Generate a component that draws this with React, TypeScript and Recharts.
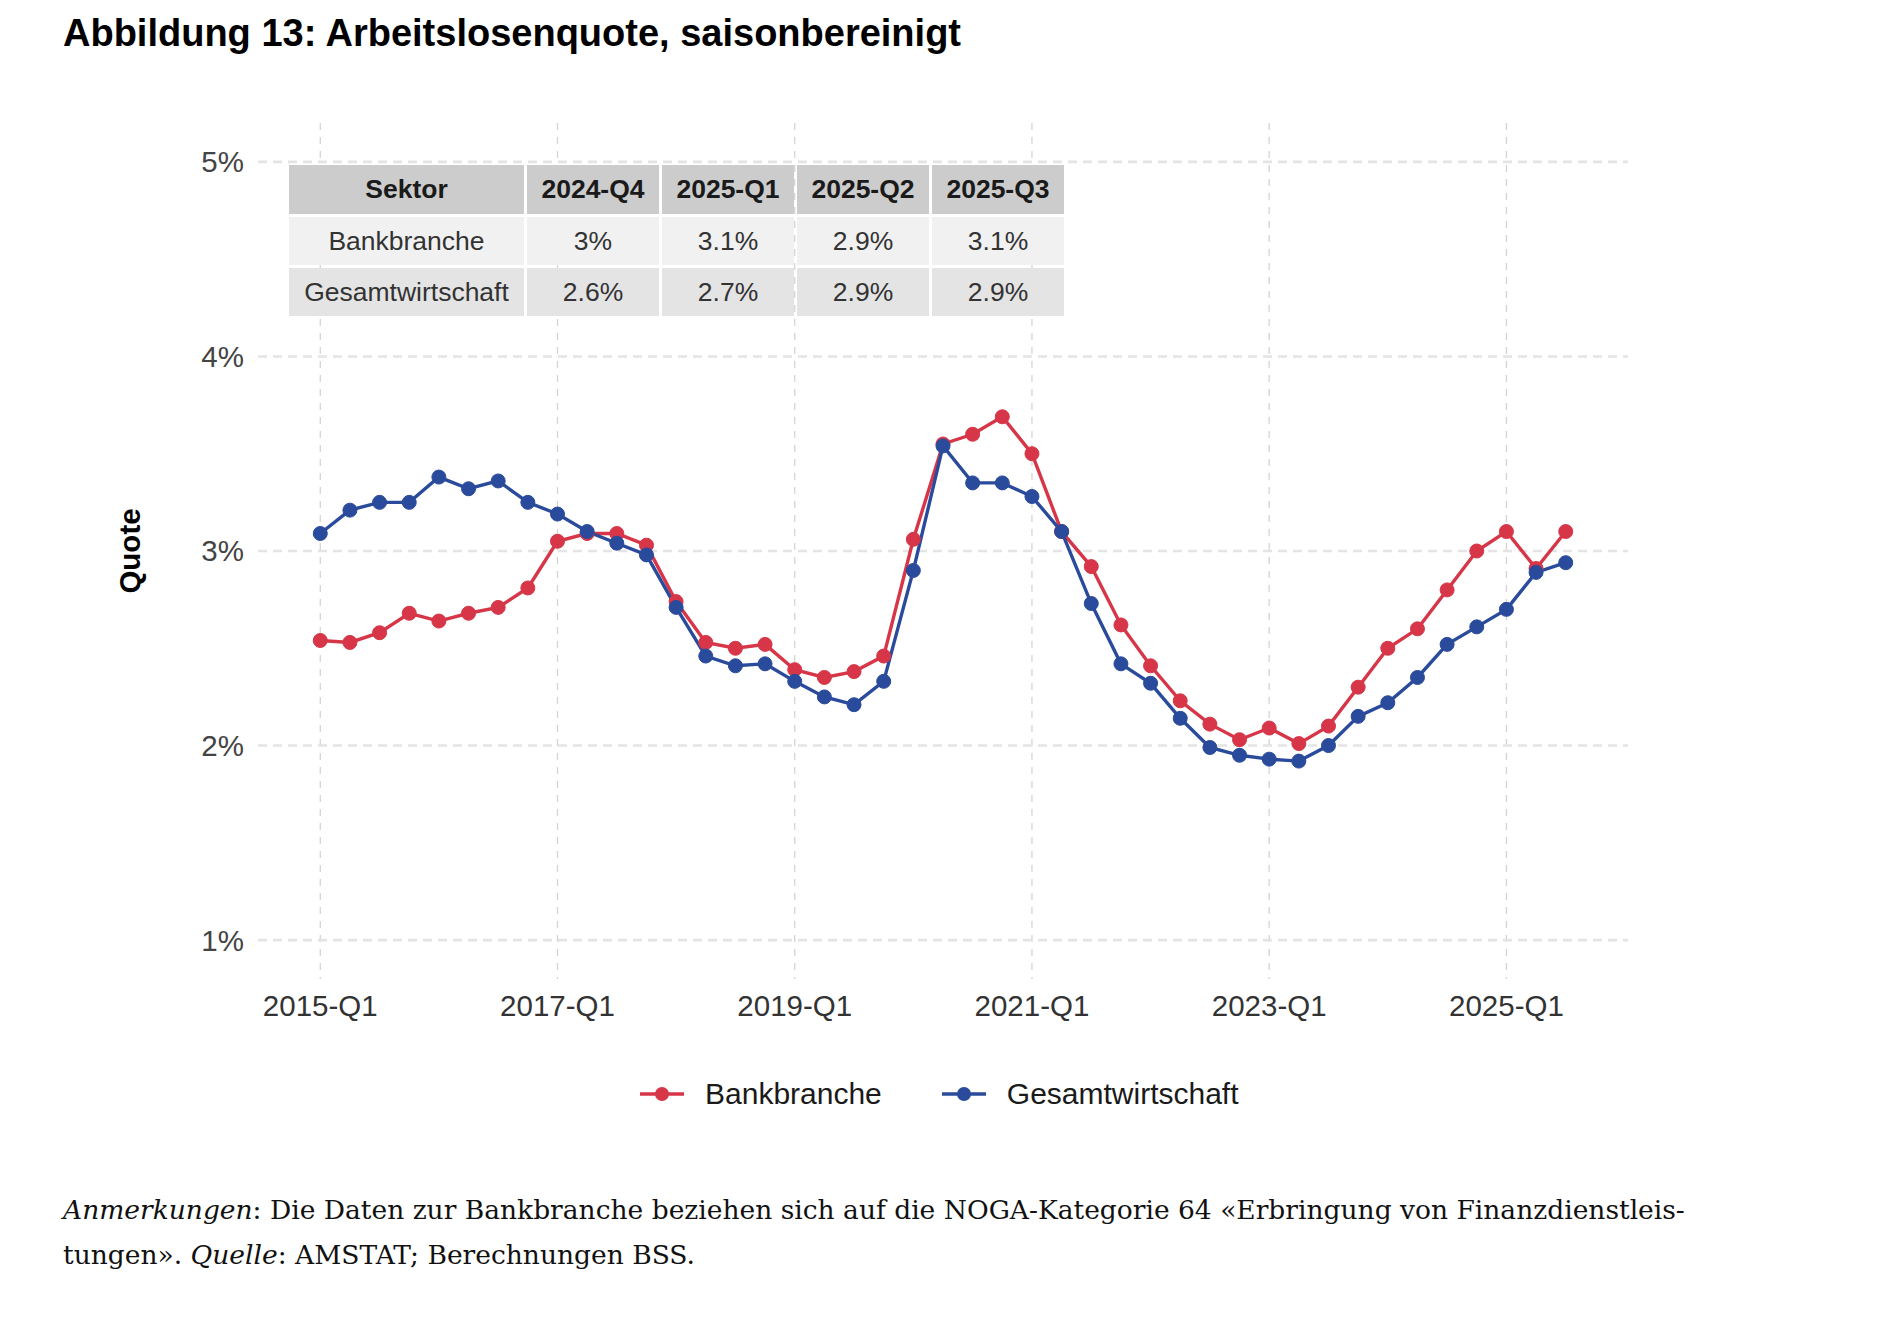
import React from 'react'
import {
  LineChart, Line, XAxis, YAxis, CartesianGrid, Legend, Label
} from 'recharts'

// quarter labels, 2015-Q1 .. 2025-Q3
const quarters = [
  '2015-Q1', '2015-Q2', '2015-Q3', '2015-Q4',
  '2016-Q1', '2016-Q2', '2016-Q3', '2016-Q4',
  '2017-Q1', '2017-Q2', '2017-Q3', '2017-Q4',
  '2018-Q1', '2018-Q2', '2018-Q3', '2018-Q4',
  '2019-Q1', '2019-Q2', '2019-Q3', '2019-Q4',
  '2020-Q1', '2020-Q2', '2020-Q3', '2020-Q4',
  '2021-Q1', '2021-Q2', '2021-Q3', '2021-Q4',
  '2022-Q1', '2022-Q2', '2022-Q3', '2022-Q4',
  '2023-Q1', '2023-Q2', '2023-Q3', '2023-Q4',
  '2024-Q1', '2024-Q2', '2024-Q3', '2024-Q4',
  '2025-Q1', '2025-Q2', '2025-Q3',
]

const bankbranche = [
  2.54, 2.53, 2.58, 2.68, 2.64, 2.68, 2.71, 2.81,
  3.05, 3.09, 3.09, 3.03, 2.74, 2.53, 2.50, 2.52,
  2.39, 2.35, 2.38, 2.46, 3.06, 3.55, 3.60, 3.69,
  3.50, 3.10, 2.92, 2.62, 2.41, 2.23, 2.11, 2.03,
  2.09, 2.01, 2.10, 2.30, 2.50, 2.60, 2.80, 3.00,
  3.10, 2.91, 3.10,
]

const gesamtwirtschaft = [
  3.09, 3.21, 3.25, 3.25, 3.38, 3.32, 3.36, 3.25,
  3.19, 3.10, 3.04, 2.98, 2.71, 2.46, 2.41, 2.42,
  2.33, 2.25, 2.21, 2.33, 2.90, 3.54, 3.35, 3.35,
  3.28, 3.10, 2.73, 2.42, 2.32, 2.14, 1.99, 1.95,
  1.93, 1.92, 2.00, 2.15, 2.22, 2.35, 2.52, 2.61,
  2.70, 2.89, 2.94,
]

const xTickLabels = ['2015-Q1', '2017-Q1', '2019-Q1', '2021-Q1', '2023-Q1', '2025-Q1']
const yTicks = [1, 2, 3, 4, 5]

// summary table
const tableHeader = ['Sektor', '2024-Q4', '2025-Q1', '2025-Q2', '2025-Q3']
const tableBank = ['Bankbranche', '3%', '3.1%', '2.9%', '3.1%']
const tableGesamt = ['Gesamtwirtschaft', '2.6%', '2.7%', '2.9%', '2.9%']

const RED = '#D73648'
const BLUE = '#2A4B9C'
const SANS = '"Liberation Sans", Arial, Helvetica, sans-serif'

const data = quarters.map((q, i) => ({
  i,
  q,
  Bankbranche: bankbranche[i],
  Gesamtwirtschaft: gesamtwirtschaft[i],
}))

const xTicks = xTickLabels.map((l) => quarters.indexOf(l))

const QuoteLabel = (props: any) => {
  const vb = props.viewBox || { x: 0, y: 0, height: 0 }
  const cx = vb.x + 121
  const cy = vb.y + vb.height / 2
  return (
    <text
      x={cx}
      y={cy}
      transform={`rotate(-90, ${cx}, ${cy})`}
      textAnchor="middle"
      dominantBaseline="central"
      style={{ fontFamily: SANS, fontSize: 29.5, fontWeight: 'bold', fill: '#000' }}
    >
      Quote
    </text>
  )
}

const LegendContent = (props: any) => {
  const items = props.payload || []
  return (
    <div style={{ height: 110, display: 'flex', alignItems: 'center', paddingLeft: 632 }}>
      {items.map((it: any, k: number) => (
        <div key={k} style={{ display: 'flex', alignItems: 'center', marginRight: 60 }}>
          <svg width={44} height={18} style={{ marginRight: 21 }}>
            <line x1={0} y1={9} x2={44} y2={9} stroke={it.color} strokeWidth={3.4} />
            <circle cx={22} cy={9} r={7} fill={it.color} />
          </svg>
          <span style={{ fontFamily: SANS, fontSize: 30, color: '#1a1a1a' }}>{it.value}</span>
        </div>
      ))}
    </div>
  )
}

const cellBg = ['#cccccc', '#f1f1f1', '#e4e4e4']

const SummaryTable = () => {
  const rows = [tableHeader, tableBank, tableGesamt]
  return (
    <div
      style={{
        position: 'absolute', left: 281, top: 157,
        display: 'grid',
        gridTemplateColumns: '235px 132px 132px 132px 132px',
        gridTemplateRows: '49px 48px 48px',
        gap: 3,
        fontFamily: SANS,
        fontSize: 26.5,
      }}
    >
      {rows.map((row, r) =>
        row.map((cell, c) => (
          <div
            key={`${r}-${c}`}
            style={{
              background: cellBg[r],
              display: 'flex', alignItems: 'center', justifyContent: 'center',
              fontWeight: r === 0 ? 'bold' : 'normal',
              color: r === 0 ? '#1a1a1a' : '#333333',
            }}
          >
            {cell}
          </div>
        ))
      )}
    </div>
  )
}

export default function App() {
  return (
    <div style={{ position: 'relative', width: 1888, height: 1320, background: '#fff' }}>
      <div
        style={{
          position: 'absolute', left: 55, top: 6, lineHeight: '38px',
          fontFamily: SANS, fontSize: 38, fontWeight: 'bold', color: '#000', whiteSpace: 'nowrap',
        }}
      >
        Abbildung 13: Arbeitslosenquote, saisonbereinigt
      </div>

      <div style={{ position: 'absolute', left: 0, top: 0 }}>
        <LineChart
          width={1888}
          height={1141}
          data={data}
          margin={{ top: 115, right: 268, bottom: 0, left: 0 }}
        >
          <CartesianGrid
            horizontal={false}
            syncWithTicks
            stroke="#d4d4d4"
            strokeWidth={1.3}
            strokeDasharray="7 7"
          />
          <CartesianGrid
            vertical={false}
            syncWithTicks
            stroke="#e4e4e4"
            strokeWidth={2.6}
            strokeDasharray="9 6"
          />
          <XAxis
            dataKey="i"
            type="number"
            domain={[-2.1, 44.1]}
            ticks={xTicks}
            tickFormatter={(v: number) => quarters[v]}
            axisLine={false}
            tickLine={false}
            tickSize={0}
            tickMargin={16}
            height={60}
            tick={{ fontFamily: SANS, fontSize: 29.5, fill: '#333333' }}
          />
          <YAxis
            type="number"
            domain={[0.8, 5.2]}
            ticks={yTicks}
            tickFormatter={(v: number) => `${v}%`}
            axisLine={false}
            tickLine={false}
            tickSize={0}
            tickMargin={14}
            width={250}
            tick={{ fontFamily: SANS, fontSize: 29.5, fill: '#444444' }}
          >
            <Label content={<QuoteLabel />} />
          </YAxis>
          <Legend
            verticalAlign="bottom"
            content={<LegendContent />}
            wrapperStyle={{ left: 0, width: 1888 }}
          />
          <Line
            type="linear"
            dataKey="Bankbranche"
            stroke={RED}
            strokeWidth={3.4}
            dot={{ r: 7, fill: RED, stroke: RED, strokeWidth: 1 }}
            activeDot={false}
            isAnimationActive={false}
          />
          <Line
            type="linear"
            dataKey="Gesamtwirtschaft"
            stroke={BLUE}
            strokeWidth={3.4}
            dot={{ r: 7, fill: BLUE, stroke: BLUE, strokeWidth: 1 }}
            activeDot={false}
            isAnimationActive={false}
          />
        </LineChart>
        <SummaryTable />
      </div>

      <div
        style={{
          position: 'absolute', left: 55, top: 1179, lineHeight: '45px',
          fontFamily: '"DejaVu Serif", "Liberation Serif", serif', fontSize: 26.5, color: '#111',
          whiteSpace: 'nowrap',
        }}
      >
        <i>Anmerkungen</i>: Die Daten zur Bankbranche beziehen sich auf die NOGA-Kategorie 64 «Erbringung von Finanzdienstleis-
        <br />
        tungen». <i>Quelle</i>: AMSTAT; Berechnungen BSS.
      </div>
    </div>
  )
}
